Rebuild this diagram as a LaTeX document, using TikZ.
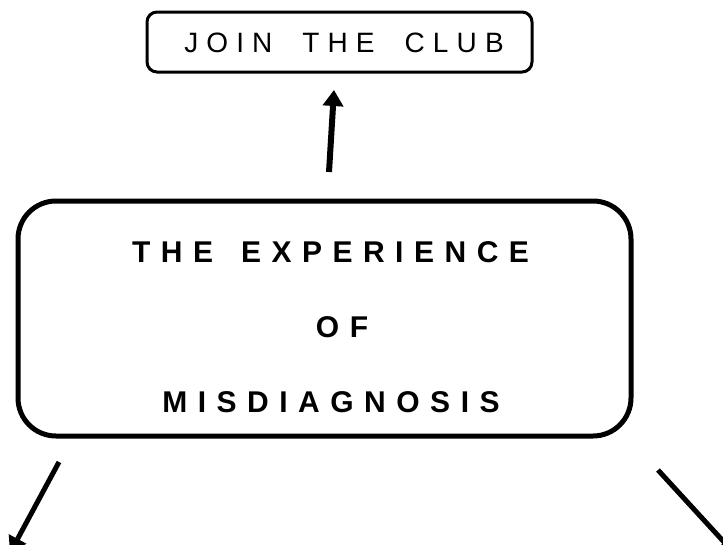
\documentclass[tikz,border=0pt]{standalone}
\usepackage{fontspec}
\setmainfont{Liberation Sans}
\newfontfamily\clubfont[LetterSpace=29]{Liberation Sans}
\newfontfamily\expfont[LetterSpace=35]{Liberation Sans}
\usetikzlibrary{arrows.meta}
\newcommand{\wgap}{\hspace{28pt}}
\newcommand{\cgap}{\hspace{30pt}}
\tikzset{
  clubbox/.style={draw, line width=3pt, rounded corners=10pt,
    minimum width=385pt, minimum height=60pt, inner sep=0pt},
  expbox/.style={draw, line width=5pt, rounded corners=38pt,
    minimum width=613pt, minimum height=235pt, inner sep=0pt},
  clubtext/.style={inner sep=0pt, font=\clubfont\fontsize{28}{32}\selectfont},
  exptext/.style={inner sep=0pt, font=\expfont\bfseries\fontsize{30}{36}\selectfont},
  uplink/.style={line width=6pt, -{Triangle[length=16pt,width=20pt]}},
  downlink/.style={line width=5pt, -{Triangle[length=16pt,width=19pt]}}
}

\begin{document}
\begin{tikzpicture}[x=1pt,y=-1pt]
  \useasboundingbox (0,0) rectangle (723,544);
  \node[clubbox] (club) at (339.5,42) {};
  \node[clubtext] (clubtxt) at (344,43) {JOIN\cgap THE\cgap CLUB};
  \node[expbox] (exp) at (324.5,318.5) {};
  \node[exptext] (expA) at (330.5,252) {THE\wgap EXPERIENCE};   % first line
  \node[exptext] (expB) at (342,327) {OF};                  % second line
  \node[exptext] (expC) at (331,402) {MISDIAGNOSIS};        % third line
  % free arrow ends
  \coordinate (upS) at (329,172);
  \coordinate (upE) at (334,90);
  \coordinate (leftS) at (59,462);
  \coordinate (leftE) at (10,553);
  \coordinate (rightS) at (658,470);
  \coordinate (rightE) at (735,554);
  \draw[uplink] (upS) -- (upE);       % up to the club
  \draw[downlink] (leftS) -- (leftE);  % down left
  \draw[downlink] (rightS) -- (rightE); % down right
\end{tikzpicture}
\end{document}
